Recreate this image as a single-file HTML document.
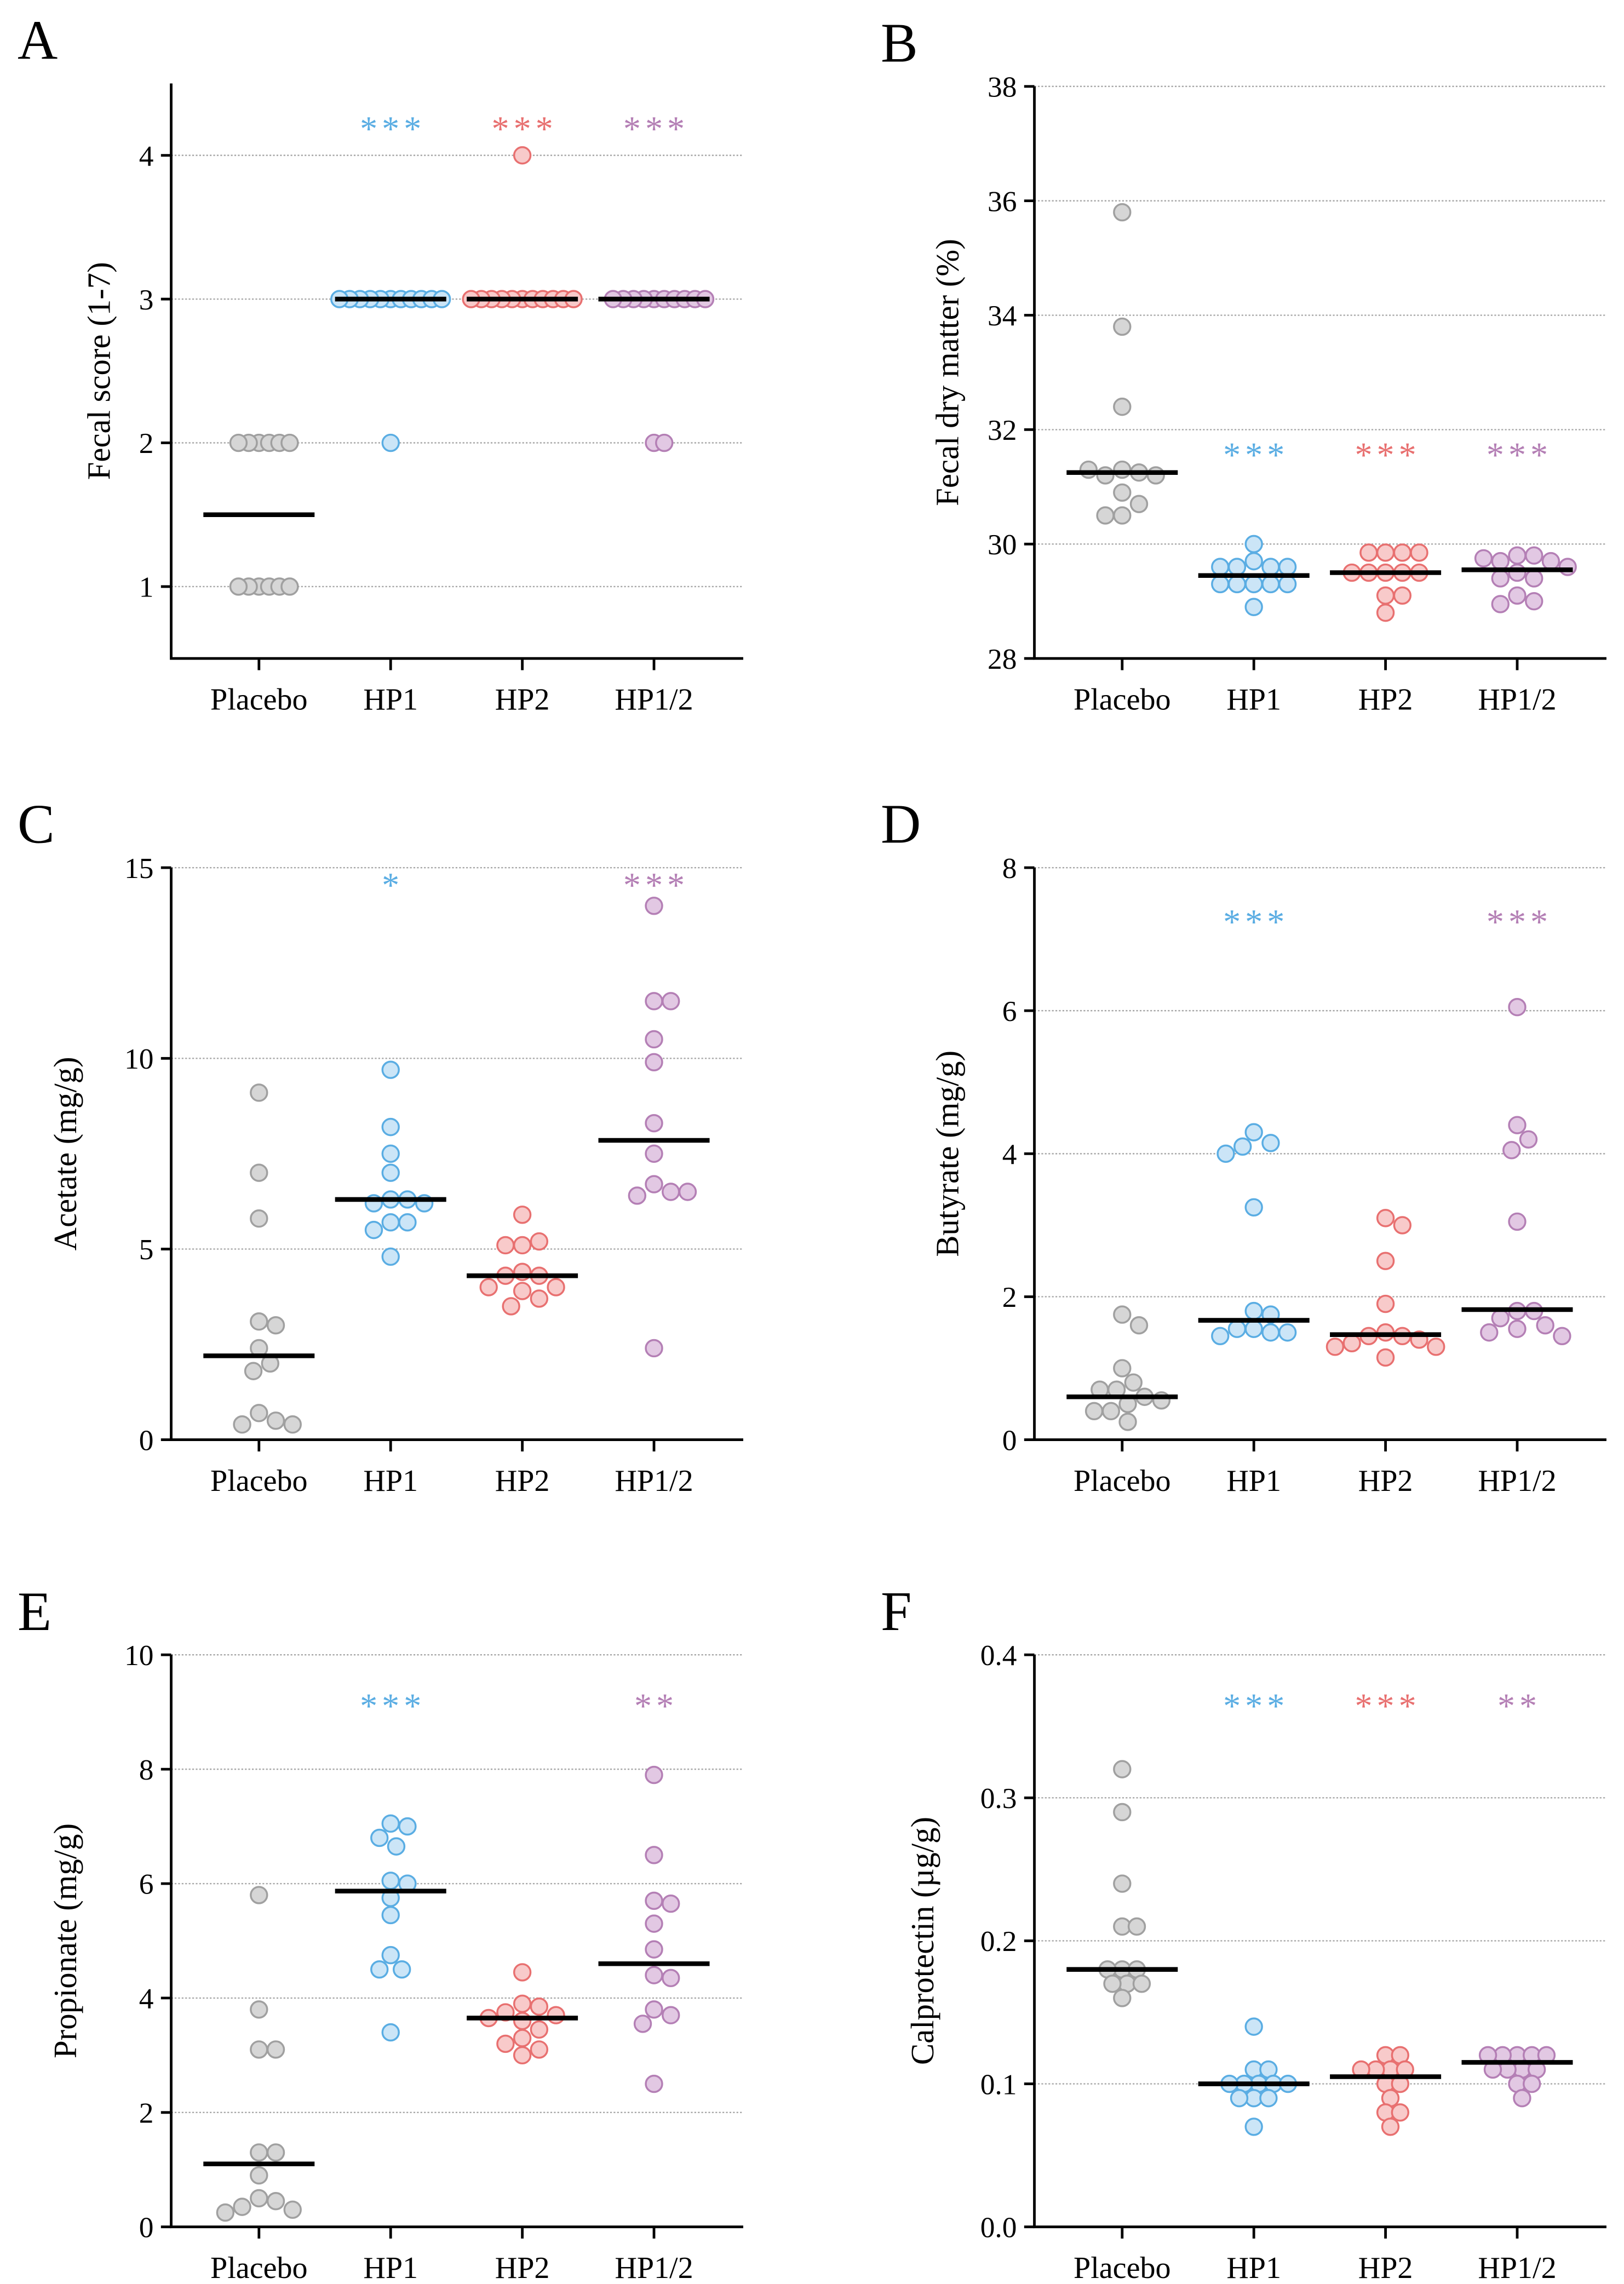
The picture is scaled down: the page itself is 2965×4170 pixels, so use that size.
<!DOCTYPE html>
<html><head><meta charset="utf-8">
<style>
html,body{margin:0;padding:0;background:#fff;}
svg{display:block;font-family:"Liberation Serif",serif;}
</style></head>
<body>
<svg id="fig" width="2965" height="4170" viewBox="0 0 1110 1561" xmlns="http://www.w3.org/2000/svg"></svg>
<script>
const categories = ["Placebo","HP1","HP2","HP1/2"];
const fecalScore = [[2,2,2,2,2,2,1,1,1,1,1,1],[3,3,3,3,3,3,3,3,3,3,3,2],[4,3,3,3,3,3,3,3,3,3,3,3],[3,3,3,3,3,3,3,3,3,3,2,2]];
const fecalScoreMedian = [1.5,3,3,3];
const dryMatter = [[35.8,33.8,32.4,31.3,31.25,31.2,31.2,31.3,30.9,30.7,30.5,30.5],[30.0,29.7,29.6,29.6,29.6,29.6,29.3,29.3,29.3,29.3,29.3,28.9],[29.85,29.85,29.85,29.85,29.5,29.5,29.5,29.5,29.5,29.1,29.1,28.8],[29.8,29.8,29.7,29.7,29.75,29.5,29.4,29.4,29.1,29.0,28.95,29.6]];
const dryMatterMedian = [31.25,29.45,29.5,29.55];
const acetate = [[9.1,7.0,5.8,3.1,3.0,2.4,2.0,1.8,0.7,0.5,0.4,0.4],[9.7,8.2,7.5,7.0,6.3,6.3,6.2,5.7,5.7,5.5,4.8,6.2],[5.9,5.1,5.2,5.1,4.4,4.3,4.3,4.0,4.0,3.9,3.7,3.5],[14.0,11.5,11.5,10.5,9.9,8.3,7.5,6.7,6.5,6.4,6.5,2.4]];
const acetateMedian = [2.2,6.3,4.3,7.85];
const butyrate = [[1.75,1.6,1.0,0.8,0.7,0.7,0.6,0.55,0.5,0.4,0.4,0.25],[4.3,4.15,4.1,4.0,3.25,1.8,1.75,1.55,1.55,1.5,1.5,1.45],[3.1,3.0,2.5,1.9,1.5,1.45,1.45,1.4,1.35,1.3,1.3,1.15],[6.05,4.4,4.2,4.05,3.05,1.8,1.8,1.7,1.6,1.55,1.5,1.45]];
const butyrateMedian = [0.6,1.67,1.47,1.82];
const propionate = [[5.8,3.8,3.1,3.1,1.3,1.3,0.9,0.5,0.45,0.35,0.3,0.25],[7.05,7.0,6.8,6.65,6.05,6.0,5.75,5.45,4.75,4.5,4.5,3.4],[4.45,3.9,3.85,3.75,3.7,3.65,3.6,3.45,3.3,3.2,3.1,3.0],[7.9,6.5,5.7,5.65,5.3,4.85,4.4,4.35,3.8,3.7,3.55,2.5]];
const propionateMedian = [1.1,5.87,3.65,4.6];
const calprotectin = [[0.32,0.29,0.24,0.21,0.21,0.18,0.18,0.18,0.17,0.17,0.17,0.16],[0.14,0.11,0.11,0.10,0.10,0.10,0.10,0.10,0.09,0.09,0.09,0.07],[0.12,0.12,0.11,0.11,0.11,0.11,0.10,0.10,0.09,0.08,0.08,0.07],[0.12,0.12,0.12,0.12,0.12,0.11,0.11,0.11,0.11,0.10,0.10,0.09]];
const calprotectinMedian = [0.18,0.10,0.105,0.115];
const ticksA = ["1","2","3","4"];
const ticksB = ["28","30","32","34","36","38"];
const ticksC = ["0","5","10","15"];
const ticksD = ["0","2","4","6","8"];
const ticksE = ["0","2","4","6","8","10"];
const ticksF = ["0.0","0.1","0.2","0.3","0.4"];
const starsA = ["","***","***","***"];
const starsB = ["","***","***","***"];
const starsC = ["","*","","***"];
const starsD = ["","***","","***"];
const starsE = ["","***","","**"];
const starsF = ["","***","***","**"];

const NS="http://www.w3.org/2000/svg";
const svg=document.getElementById('fig');
const strokes=["#a0a0a0","#5aade3","#e87070","#b47fb5"];
const fills=["#d6d6d6","#cbe5f7","#f8caca","#e2c8e3"];
function mk(tag,attrs,parent){const e=document.createElementNS(NS,tag);for(const k in attrs)e.setAttribute(k,attrs[k]);(parent||svg).appendChild(e);return e;}

function panel(o){
  const g=mk('g',{});
  
  
  const x0=o.x0,x1=o.x0+391,top=o.top,bot=o.bot;
  const ys=v=>bot-(v-o.min)/(o.max-o.min)*(bot-top);
  const xs=i=>o.x0+60+i*90;
  const L=mk('text',{x:o.x0-105,y:top-17,'font-size':38},g);L.textContent=o.letter;
  
  
  o.ticks.forEach(t=>{const v=parseFloat(t),y=ys(v);
    if(Math.abs(y-bot)>1){const gl=mk('line',{x1:x0,x2:x1,y1:y,y2:y,stroke:'#a8a8a8','stroke-width':0.9,'stroke-dasharray':'1.2 1.2'},g);
      
      }
    mk('line',{x1:x0-7,x2:x0,y1:y,y2:y,stroke:'#000','stroke-width':1.8},g);
    const tl=mk('text',{x:x0-12,y:y+7,'font-size':20,'text-anchor':'end'},g);tl.textContent=t;
    
    
  });
  const ax=mk('path',{d:`M${x0} ${top}V${bot}H${x1}`,fill:'none',stroke:'#000','stroke-width':1.8},g);
  
  
  const yt=mk('text',{transform:`translate(${o.titleX},${(top+bot)/2}) rotate(-90)`,'font-size':22,'text-anchor':'middle'},g);
  yt.textContent=o.title;
  
  
  categories.forEach((c,i)=>{
    const cx=xs(i);
    mk('line',{x1:cx,x2:cx,y1:bot,y2:bot+8,stroke:'#000','stroke-width':1.8},g);
    const cl=mk('text',{x:cx,y:bot+35,'font-size':21,'text-anchor':'middle'},g);cl.textContent=c;
    
    
    const placed=[];const d=o.d;
    o.data[i].forEach(v=>{
      const py=ys(v);let best=0;
      for(let k=0;k<60;k++){
        const cand=k===0?[0]:[k*d/3,-k*d/3];
        let ok=null;
        for(const dx of cand){if(placed.every(p=>Math.hypot(p[0]-dx,p[1]-py)>=d-0.01)){ok=dx;break;}}
        if(ok!==null){best=ok;break;}
      }
      placed.push([best,py]);
      const pt=mk('circle',{cx:cx+best,cy:py,r:5.6,fill:fills[i],stroke:strokes[i],'stroke-width':1.3},g);
      
      
    });
    const ml=mk('line',{x1:cx-38,x2:cx+38,y1:ys(o.med[i]),y2:ys(o.med[i]),stroke:'#000','stroke-width':3.2},g);
    
    
    if(o.stars[i]){const st=mk('text',{x:cx+1.5,y:o.starY,'font-size':24,'text-anchor':'middle',fill:strokes[i],'letter-spacing':'3'},g);
      st.textContent=o.stars[i];
      
      }
  });
}
panel({letter:'A',x0:117,top:57,bot:450,min:0.5,max:4.5,ticks:ticksA,data:fecalScore,med:fecalScoreMedian,stars:starsA,starY:96,title:'Fecal score (1-7)',titleX:75,d:7});
panel({letter:'B',x0:707,top:59,bot:450,min:28,max:38,ticks:ticksB,data:dryMatter,med:dryMatterMedian,stars:starsB,starY:319,title:'Fecal dry matter (%)',titleX:655,d:11.5});
panel({letter:'C',x0:117,top:593,bot:984,min:0,max:15,ticks:ticksC,data:acetate,med:acetateMedian,stars:starsC,starY:613,title:'Acetate (mg/g)',titleX:52,d:11.5});
panel({letter:'D',x0:707,top:593,bot:984,min:0,max:8,ticks:ticksD,data:butyrate,med:butyrateMedian,stars:starsD,starY:638,title:'Butyrate (mg/g)',titleX:655,d:11.5});
panel({letter:'E',x0:117,top:1131,bot:1522,min:0,max:10,ticks:ticksE,data:propionate,med:propionateMedian,stars:starsE,starY:1174,title:'Propionate (mg/g)',titleX:52,d:11.5});
panel({letter:'F',x0:707,top:1131,bot:1522,min:0,max:0.4,ticks:ticksF,data:calprotectin,med:calprotectinMedian,stars:starsF,starY:1174,title:'Calprotectin (\u00b5g/g)',titleX:638,d:10});
</script>
</body></html>
